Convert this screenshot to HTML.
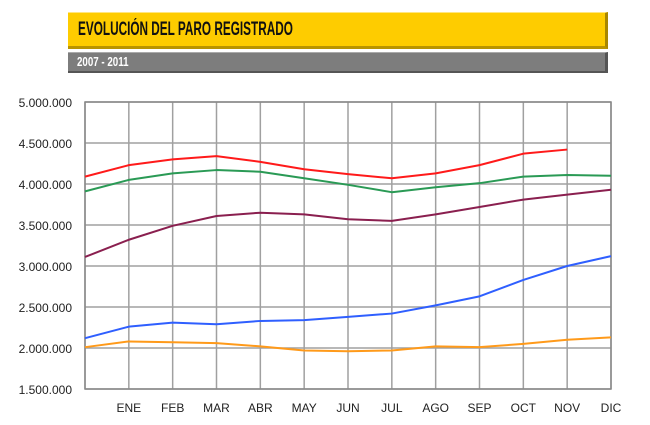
<!DOCTYPE html>
<html><head><meta charset="utf-8"><style>
body{margin:0;background:#fff;font-family:"Liberation Sans",sans-serif}
#wrap{position:relative;width:650px;height:425px;overflow:hidden}
.bar{position:absolute;left:68px;width:540px;box-sizing:border-box}
.bar span{display:inline-block;transform-origin:0 50%}
#title{top:12px;height:37px;background:#fecc00;border-right:3px solid #a88700;border-bottom:3px solid #b99400;border-top:1px solid #ffe680;font:bold 19px "Liberation Sans",sans-serif;line-height:34px;padding-left:10px;color:#111}
#title span{transform:scaleX(0.62)}
#sub{top:52px;height:21px;background:#7d7d7d;border-right:3px solid #555;border-bottom:2px solid #555;border-top:1px solid #aaa;font:bold 13px "Liberation Sans",sans-serif;color:#fff;line-height:18px;padding-left:9px}
#sub span{transform:scaleX(0.75)}
</style></head><body>
<div id="wrap">
<div id="title" class="bar"><span>EVOLUCIÓN DEL PARO REGISTRADO</span></div>
<div id="sub" class="bar"><span>2007 - 2011</span></div>
<svg id="chart" width="650" height="425" style="position:absolute;left:0;top:0"></svg>
</div>
<script>
const months=["","ENE","FEB","MAR","ABR","MAY","JUN","JUL","AGO","SEP","OCT","NOV","DIC"];
const yTicks=[1500000,2000000,2500000,3000000,3500000,4000000,4500000,5000000];
const sRed=[4090000,4230000,4300000,4340000,4270000,4180000,4120000,4070000,4130000,4230000,4370000,4420000];
const sGreen=[3910000,4050000,4130000,4170000,4150000,4070000,3990000,3900000,3960000,4010000,4090000,4110000,4100000];
const sPurple=[3110000,3320000,3490000,3610000,3650000,3630000,3570000,3550000,3630000,3720000,3810000,3870000,3930000];
const sBlue=[2120000,2260000,2310000,2290000,2330000,2340000,2380000,2420000,2520000,2630000,2830000,3000000,3120000];
const sOrange=[2010000,2080000,2070000,2060000,2020000,1970000,1960000,1970000,2020000,2010000,2050000,2100000,2130000];
const series=[["series-2011",sRed,"#ff1a1a"],["series-2010",sGreen,"#2a9a55"],["series-2009",sPurple,"#8a1f4f"],["series-2008",sBlue,"#2f5fff"],["series-2007",sOrange,"#ff9a1a"]];
const L=85,R=611,T=102,B=389,ymin=1500000,ymax=5000000;
const x=i=>L+i*(R-L)/12, y=v=>B-(v-ymin)/(ymax-ymin)*(B-T);
const svg=document.getElementById('chart'),NS="http://www.w3.org/2000/svg";
function mk(t,a){const e=document.createElementNS(NS,t);for(const k in a)e.setAttribute(k,a[k]);svg.appendChild(e);return e;}
yTicks.forEach(v=>{
 const g=mk('line',{x1:L,x2:R,y1:y(v),y2:y(v),stroke:'#a0a0a0','stroke-width':1.5});
 
 
 const t=mk('text',{x:72,y:y(v)+5,'text-anchor':'end','font-size':12,fill:'#222'});
 t.textContent=v.toLocaleString('de-DE');
 
 
});
months.forEach((m,i)=>{
 const g=mk('line',{x1:x(i),x2:x(i),y1:T,y2:B,stroke:'#a0a0a0','stroke-width':1.5});
 
 
 if(m){const t=mk('text',{x:x(i),y:412,'text-anchor':'middle','font-size':12,fill:'#222'});
 t.textContent=m;
 
 }
});
const r=mk('rect',{x:L,y:T,width:R-L,height:B-T,fill:'none',stroke:'#888','stroke-width':1.5});


series.forEach(([n,d,c])=>{
 const p=mk('polyline',{points:d.map((v,i)=>x(i)+','+y(v)).join(' '),fill:'none',stroke:c,'stroke-width':2,'stroke-linejoin':'round'});
 
 
});
</script>
</body></html>
